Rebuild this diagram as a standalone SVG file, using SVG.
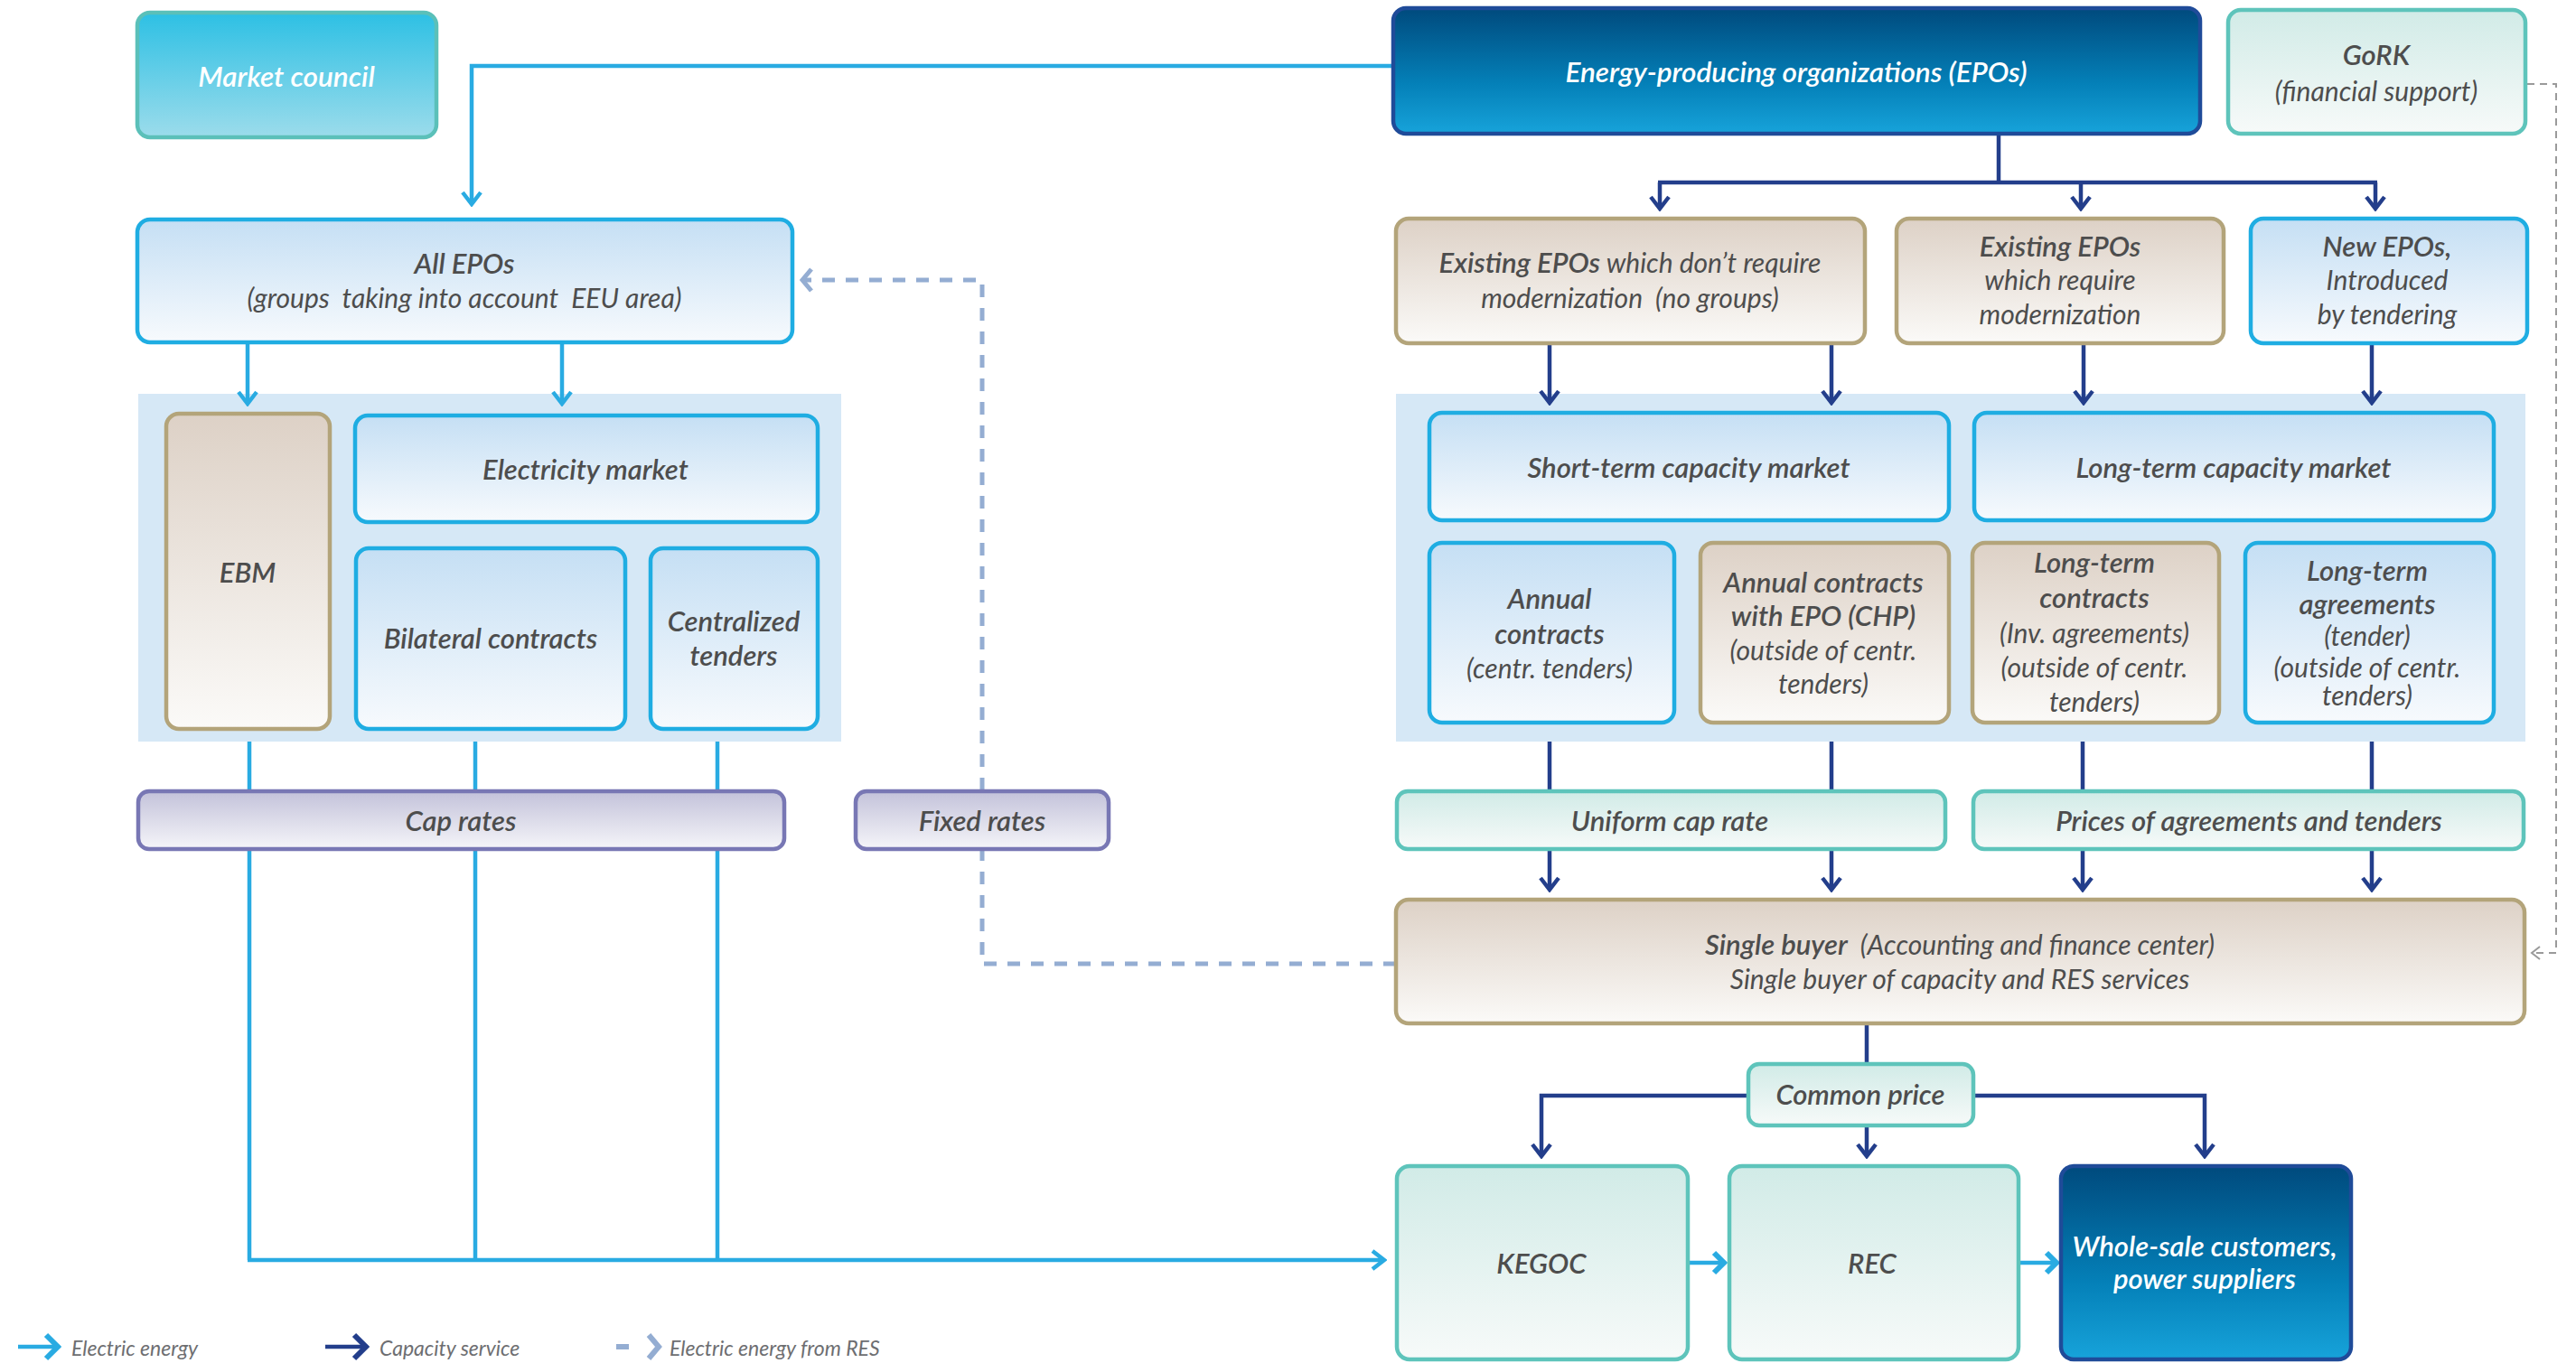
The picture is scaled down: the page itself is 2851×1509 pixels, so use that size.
<svg xmlns="http://www.w3.org/2000/svg" width="2851" height="1509" viewBox="0 0 2851 1509">
<style>
text{font-family:Lato,"Open Sans","Liberation Sans",sans-serif;font-style:italic;fill:#4D4D4D;text-anchor:middle;font-size:31px;font-weight:600;white-space:pre}
.r{font-weight:400;font-size:30px}
.w{fill:#FFFFFF}
.big{font-size:31.5px}
.leg{font-size:23px;font-weight:400;fill:#6D6E71;text-anchor:start}
.blue{fill:url(#gBlue);stroke:#1FADE2;stroke-width:4.5}
.tan{fill:url(#gTan);stroke:#B3A47A;stroke-width:4.5}
.teal{fill:url(#gTeal);stroke:#5EC4BB;stroke-width:4.5}
.purp{fill:url(#gPurp);stroke:#7877B4;stroke-width:4.5}
.dark{fill:url(#gDark);stroke:#1F4B99;stroke-width:4.5}
.mc{fill:url(#gMC);stroke:#5BC0B9;stroke-width:4.5}
.panel{fill:#D6E8F6}
.ce{fill:none;stroke:#29ABE2;stroke-width:4.5}
.cn{fill:none;stroke:#233E8B;stroke-width:4.5}
.cr{fill:none;stroke:#94ADD2;stroke-width:5;stroke-dasharray:14 12}
.cg{fill:none;stroke:#9A9A9A;stroke-width:2;stroke-dasharray:8 6}
</style>
<defs>
<linearGradient id="gBlue" x1="0" y1="0" x2="0" y2="1"><stop offset="0" stop-color="#C5DFF4"/><stop offset="1" stop-color="#F7FAFD"/></linearGradient>
<linearGradient id="gTan" x1="0" y1="0" x2="0" y2="1"><stop offset="0" stop-color="#DDD1C6"/><stop offset="1" stop-color="#FBFAF8"/></linearGradient>
<linearGradient id="gTeal" x1="0" y1="0" x2="0" y2="1"><stop offset="0" stop-color="#D1EBE7"/><stop offset="1" stop-color="#F7FAF9"/></linearGradient>
<linearGradient id="gPurp" x1="0" y1="0" x2="0" y2="1"><stop offset="0" stop-color="#C3C2DA"/><stop offset="1" stop-color="#F5F5F9"/></linearGradient>
<linearGradient id="gDark" x1="0" y1="0" x2="0" y2="1"><stop offset="0" stop-color="#004A7D"/><stop offset="0.6" stop-color="#0480B8"/><stop offset="1" stop-color="#17A3DA"/></linearGradient>
<linearGradient id="gMC" x1="0" y1="0" x2="0" y2="1"><stop offset="0" stop-color="#2DC0E4"/><stop offset="1" stop-color="#9CDCEB"/></linearGradient>
<marker id="aE" markerUnits="userSpaceOnUse" markerWidth="20" markerHeight="26" viewBox="-17 -13 20 26" refX="0" refY="0" orient="auto"><path d="M-13,-10 L0,0 L-13,10" fill="none" stroke="#29ABE2" stroke-width="4.5"/></marker>
<marker id="aN" markerUnits="userSpaceOnUse" markerWidth="20" markerHeight="26" viewBox="-17 -13 20 26" refX="0" refY="0" orient="auto"><path d="M-13,-10 L0,0 L-13,10" fill="none" stroke="#233E8B" stroke-width="4.5"/></marker>
<marker id="aR" markerUnits="userSpaceOnUse" markerWidth="20" markerHeight="30" viewBox="-17 -15 20 30" refX="0" refY="0" orient="auto"><path d="M-10,-12 L0,0 L-10,12" fill="none" stroke="#94ADD2" stroke-width="5"/></marker>
<marker id="aG" markerUnits="userSpaceOnUse" markerWidth="16" markerHeight="20" viewBox="-13 -10 16 20" refX="0" refY="0" orient="auto"><path d="M-9,-7 L0,0 L-9,7" fill="none" stroke="#9A9A9A" stroke-width="2"/></marker>
<marker id="aEB" markerUnits="userSpaceOnUse" markerWidth="22" markerHeight="30" viewBox="-18 -15 22 30" refX="0" refY="0" orient="auto"><path d="M-11,-11 L0,0 L-11,11" fill="none" stroke="#29ABE2" stroke-width="6"/></marker>
<marker id="aEL" markerUnits="userSpaceOnUse" markerWidth="24" markerHeight="32" viewBox="-20 -16 24 32" refX="0" refY="0" orient="auto"><path d="M-13,-13 L0,0 L-13,13" fill="none" stroke="#29ABE2" stroke-width="6"/></marker>
<marker id="aNL" markerUnits="userSpaceOnUse" markerWidth="24" markerHeight="32" viewBox="-20 -16 24 32" refX="0" refY="0" orient="auto"><path d="M-13,-13 L0,0 L-13,13" fill="none" stroke="#233E8B" stroke-width="6"/></marker>
<marker id="aRL" markerUnits="userSpaceOnUse" markerWidth="24" markerHeight="32" viewBox="-20 -16 24 32" refX="0" refY="0" orient="auto"><path d="M-11,-13 L0,0 L-11,13" fill="none" stroke="#94ADD2" stroke-width="6"/></marker>
</defs>
<rect width="2851" height="1509" fill="#FFFFFF"/>

<g id="panel-left"><rect class="panel" x="153" y="436" width="778" height="385"/></g>
<g id="panel-right"><rect class="panel" x="1545" y="436" width="1250" height="385"/></g>

<g id="connectors">
<path class="ce" d="M1542,73 H522 V226" marker-end="url(#aE)"/>
<path class="ce" d="M274,380 V447" marker-end="url(#aE)"/>
<path class="ce" d="M622,380 V447" marker-end="url(#aE)"/>
<path class="ce" d="M276,821 V1395"/>
<path class="ce" d="M526,821 V1395"/>
<path class="ce" d="M794,821 V1395"/>
<path class="ce" d="M274,1395 H1532" marker-end="url(#aE)"/>
<path class="ce" d="M1868,1398 H1908" stroke-width="6" marker-end="url(#aEB)"/>
<path class="ce" d="M2234,1398 H2276" stroke-width="6" marker-end="url(#aEB)"/>
<path class="cn" d="M2212,148 V202"/>
<path class="cn" d="M1835,202 H2631"/>
<path class="cn" d="M1837,202 V231" marker-end="url(#aN)"/>
<path class="cn" d="M2303,202 V231" marker-end="url(#aN)"/>
<path class="cn" d="M2629,202 V231" marker-end="url(#aN)"/>
<path class="cn" d="M1715,380 V446" marker-end="url(#aN)"/>
<path class="cn" d="M2027,380 V446" marker-end="url(#aN)"/>
<path class="cn" d="M2306,380 V446" marker-end="url(#aN)"/>
<path class="cn" d="M2625,380 V446" marker-end="url(#aN)"/>
<path class="cn" d="M1715,821 V985" marker-end="url(#aN)"/>
<path class="cn" d="M2027,821 V985" marker-end="url(#aN)"/>
<path class="cn" d="M2305,821 V985" marker-end="url(#aN)"/>
<path class="cn" d="M2625,821 V985" marker-end="url(#aN)"/>
<path class="cn" d="M2066,1133 V1180"/>
<path class="cn" d="M1935,1213 H1706 V1280" marker-end="url(#aN)"/>
<path class="cn" d="M2184,1213 H2440 V1280" marker-end="url(#aN)"/>
<path class="cn" d="M2066,1246 V1280" marker-end="url(#aN)"/>
<path class="cr" d="M1545,1067 H1087 V310 H888" marker-end="url(#aR)"/>
<path class="cg" d="M2797,93 H2829 V1055 H2802" marker-end="url(#aG)"/>
</g>

<g id="market-council"><rect class="mc" x="152" y="14" width="331" height="138" rx="14"/><text class="w big" x="317" y="96">Market council</text></g>
<g id="epos"><rect class="dark" x="1542" y="9" width="893" height="139" rx="14"/><text class="w big" x="1988" y="91">Energy-producing organizations (EPOs)</text></g>
<g id="gork"><rect class="teal" x="2466" y="11" width="329" height="137" rx="14"/><text x="2630" y="72">GoRK</text><text class="r" x="2630" y="112">(financial support)</text></g>
<g id="all-epos"><rect class="blue" x="152" y="243" width="725" height="136" rx="14"/><text x="514" y="303">All EPOs</text><text class="r" x="514" y="341">(groups  taking into account  EEU area)</text></g>

<g id="ebm"><rect class="tan" x="184" y="458" width="181" height="349" rx="14"/><text x="274" y="645">EBM</text></g>
<g id="electricity-market"><rect class="blue" x="393" y="460" width="512" height="118" rx="14"/><text x="648" y="531">Electricity market</text></g>
<g id="bilateral-contracts"><rect class="blue" x="394" y="607" width="298" height="200" rx="14"/><text x="543" y="718">Bilateral contracts</text></g>
<g id="centralized-tenders"><rect class="blue" x="720" y="607" width="185" height="200" rx="14"/><text x="812" y="699">Centralized</text><text x="812" y="737">tenders</text></g>

<g id="cap-rates"><rect class="purp" x="153" y="876" width="715" height="64" rx="12"/><text x="510" y="920">Cap rates</text></g>
<g id="fixed-rates"><rect class="purp" x="947" y="876" width="280" height="64" rx="12"/><text x="1087" y="920">Fixed rates</text></g>

<g id="existing-no-mod"><rect class="tan" x="1545" y="242" width="519" height="138" rx="14"/><text x="1804" y="302">Existing EPOs<tspan class="r"> which don’t require</tspan></text><text class="r" x="1804" y="341">modernization  (no groups)</text></g>
<g id="existing-mod"><rect class="tan" x="2099" y="242" width="362" height="138" rx="14"/><text x="2280" y="284">Existing EPOs</text><text class="r" x="2280" y="321">which require</text><text class="r" x="2280" y="359">modernization</text></g>
<g id="new-epos"><rect class="blue" x="2491" y="242" width="306" height="138" rx="14"/><text x="2642" y="284">New EPOs,</text><text class="r" x="2642" y="321">Introduced</text><text class="r" x="2642" y="359">by tendering</text></g>

<g id="short-term"><rect class="blue" x="1582" y="457" width="575" height="119" rx="14"/><text x="1869" y="529">Short-term capacity market</text></g>
<g id="long-term"><rect class="blue" x="2185" y="457" width="575" height="119" rx="14"/><text x="2472" y="529">Long-term capacity market</text></g>
<g id="annual-contracts"><rect class="blue" x="1582" y="601" width="271" height="199" rx="14"/><text x="1715" y="674">Annual</text><text x="1715" y="713">contracts</text><text class="r" x="1715" y="751">(centr. tenders)</text></g>
<g id="annual-chp"><rect class="tan" x="1882" y="601" width="275" height="199" rx="14"/><text x="2018" y="656">Annual contracts</text><text x="2018" y="693">with EPO (CHP)</text><text class="r" x="2018" y="731">(outside of centr.</text><text class="r" x="2018" y="768">tenders)</text></g>
<g id="lt-contracts"><rect class="tan" x="2183" y="601" width="273" height="199" rx="14"/><text x="2318" y="634">Long-term</text><text x="2318" y="673">contracts</text><text class="r" x="2318" y="712">(Inv. agreements)</text><text class="r" x="2318" y="750">(outside of centr.</text><text class="r" x="2318" y="788">tenders)</text></g>
<g id="lt-agreements"><rect class="blue" x="2485" y="601" width="275" height="199" rx="14"/><text x="2620" y="643">Long-term</text><text x="2620" y="680">agreements</text><text class="r" x="2620" y="715">(tender)</text><text class="r" x="2620" y="750">(outside of centr.</text><text class="r" x="2620" y="781">tenders)</text></g>

<g id="uniform-cap-rate"><rect class="teal" x="1546" y="876" width="607" height="64" rx="12"/><text x="1848" y="920">Uniform cap rate</text></g>
<g id="prices"><rect class="teal" x="2184" y="876" width="609" height="64" rx="12"/><text x="2489" y="920">Prices of agreements and tenders</text></g>
<g id="single-buyer"><rect class="tan" x="1545" y="996" width="1249" height="137" rx="14"/><text x="2169" y="1057">Single buyer<tspan class="r">  (Accounting and finance center)</tspan></text><text class="r" x="2169" y="1095">Single buyer of capacity and RES services</text></g>
<g id="common-price"><rect class="teal" x="1935" y="1178" width="249" height="68" rx="12"/><text x="2059" y="1223">Common price</text></g>
<g id="kegoc"><rect class="teal" x="1546" y="1291" width="322" height="214" rx="14"/><text x="1706" y="1410">KEGOC</text></g>
<g id="rec"><rect class="teal" x="1914" y="1291" width="320" height="214" rx="14"/><text x="2072" y="1410">REC</text></g>
<g id="wholesale"><rect class="dark" x="2281" y="1291" width="321" height="214" rx="14"/><text class="w" x="2440" y="1391">Whole-sale customers,</text><text class="w" x="2440" y="1427">power suppliers</text></g>

<g id="legend">
<path class="ce" d="M20,1491 H64" stroke-width="6" marker-end="url(#aEL)"/>
<text class="leg" x="79" y="1501">Electric energy</text>
<path class="cn" d="M360,1491 H405" stroke-width="6" marker-end="url(#aNL)"/>
<text class="leg" x="420" y="1501">Capacity service</text>
<path d="M682,1491 H729" fill="none" stroke="#94ADD2" stroke-width="6" stroke-dasharray="14 33" marker-end="url(#aRL)"/>
<text class="leg" x="741" y="1501">Electric energy from RES</text>
</g>
</svg>
